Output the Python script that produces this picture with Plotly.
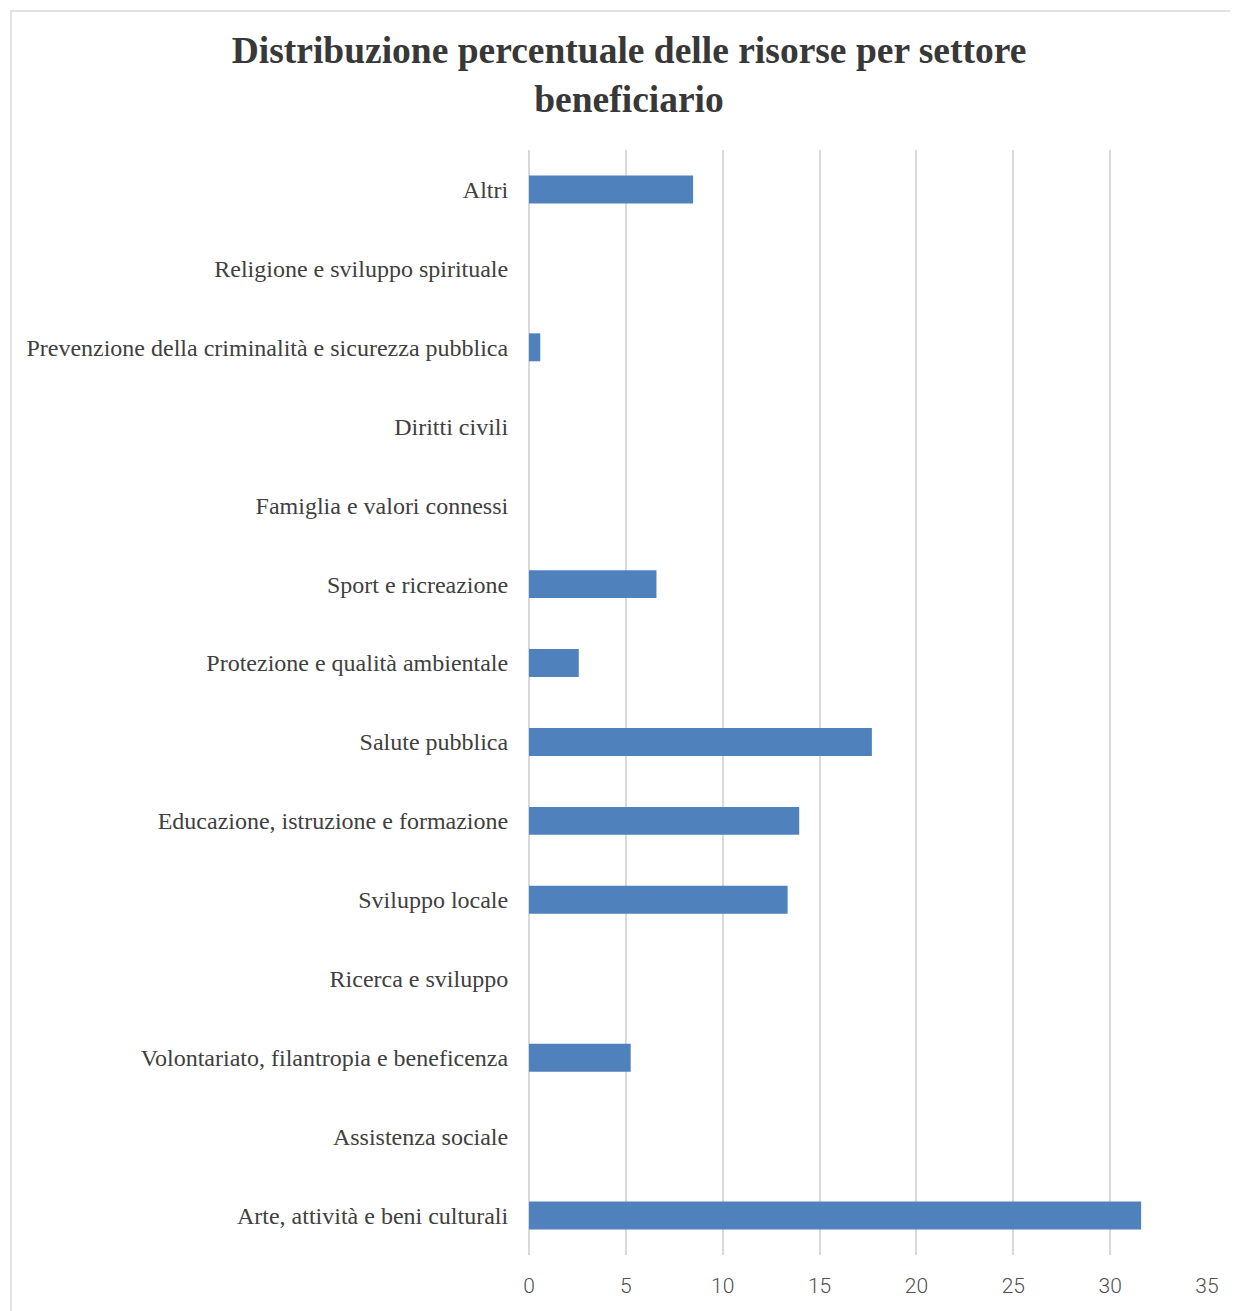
import plotly.graph_objects as go

categories = [
    "Arte, attività e beni culturali",
    "Assistenza sociale",
    "Volontariato, filantropia e beneficenza",
    "Ricerca e sviluppo",
    "Sviluppo locale",
    "Educazione, istruzione e formazione",
    "Salute pubblica",
    "Protezione e qualità ambientale",
    "Sport e ricreazione",
    "Famiglia e valori connessi",
    "Diritti civili",
    "Prevenzione della criminalità e sicurezza pubblica",
    "Religione e sviluppo spirituale",
    "Altri",
]
values = [31.6, 0, 5.25, 0, 13.35, 13.95, 17.7, 2.57, 6.58, 0, 0, 0.58, 0, 8.47]
x_ticks = [0, 5, 10, 15, 20, 25, 30, 35]

# page is offset by the 8px body margin
W, H = 1230, 1303
L, R, T, B = 521, 31, 142, 56
pw, ph = W - L - R, H - T - B

fig = go.Figure()
fig.add_trace(go.Bar(
    y=categories,
    x=values,
    orientation="h",
    marker=dict(color="#4F81BD", line=dict(width=0)),
    hoverinfo="x+y",
))

fig.update_layout(
    width=W,
    height=H,
    margin=dict(l=L, r=R, t=T, b=B, autoexpand=False),
    paper_bgcolor="white",
    plot_bgcolor="white",
    bargap=0.646,
    showlegend=False,
    title=dict(
        text="<b>Distribuzione percentuale delle risorse per settore<br>beneficiario</b>",
        x=621 / W,
        xanchor="center",
        xref="container",
        y=1 - 55 / H,
        yanchor="top",
        yref="container",
        font=dict(family="Liberation Serif, Times New Roman, serif", size=37.5, color="#383838"),
    ),
    xaxis=dict(
        range=[0, 35],
        tickvals=x_ticks,
        showgrid=True,
        gridcolor="#D9D9D9",
        gridwidth=1.5,
        zeroline=True,
        zerolinecolor="#D9D9D9",
        zerolinewidth=1.5,
        showline=False,
        ticks="outside",
        ticklen=12,
        tickcolor="rgba(0,0,0,0)",
        tickfont=dict(family="Roboto, sans-serif", size=21, color="#505050", weight=300),
        fixedrange=True,
    ),
    yaxis=dict(
        type="category",
        categoryorder="array",
        categoryarray=categories,
        showgrid=False,
        zeroline=False,
        showline=False,
        ticks="outside",
        ticklen=15,
        tickcolor="rgba(0,0,0,0)",
        tickfont=dict(family="Liberation Serif, Times New Roman, serif", size=24, color="#404040"),
        fixedrange=True,
    ),
)

# chart area frame
fig.add_shape(
    type="rect", xref="paper", yref="paper",
    x0=(3 - L) / pw, x1=(W + 20 - L) / pw,
    y0=-(B + 20) / ph, y1=(H - B - 3) / ph,
    line=dict(color="#D9D9D9", width=1.5),
    fillcolor="rgba(0,0,0,0)",
    layer="below",
)

fig.write_html("out.html")
